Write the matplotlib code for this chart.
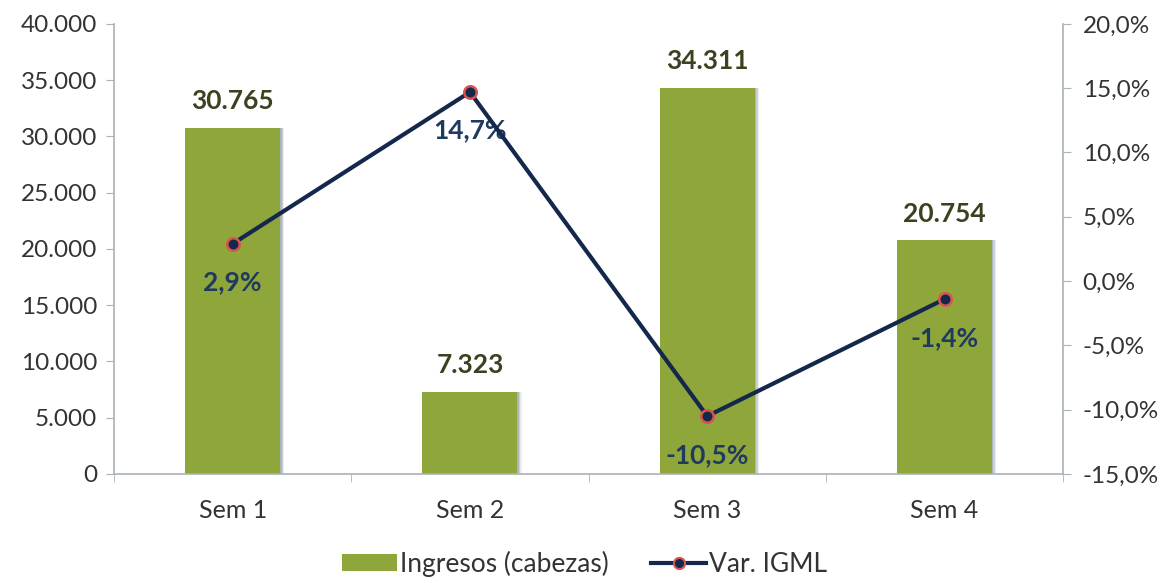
import matplotlib.pyplot as plt
import numpy as np
from matplotlib.ticker import FuncFormatter, FixedLocator
from matplotlib.lines import Line2D
from matplotlib.patches import Patch

categories = ["Sem 1", "Sem 2", "Sem 3", "Sem 4"]
ingresos = [30765, 7323, 34311, 20754]
var_igml = [2.9, 14.7, -10.5, -1.4]
bar_labels = ["30.765", "7.323", "34.311", "20.754"]
line_labels = ["2,9%", "14,7%", "-10,5%", "-1,4%"]

plt.rcParams['font.family'] = ['Lato', 'DejaVu Sans']

fig = plt.figure(figsize=(11.69, 5.83), dpi=100)
ax = fig.add_axes([0.0975, 0.187, 0.812, 0.772])
ax2 = ax.twinx()

x = np.arange(len(categories))
bar_color = "#8FA63A"
bw = 0.4
# soft shadow on right side
for dx, al in [(0.006, 0.4), (0.012, 0.28), (0.018, 0.16)]:
    ax.bar(x + dx, ingresos, width=bw, color="#7D8C96", alpha=al, zorder=1, linewidth=0)
ax.bar(x, ingresos, width=bw, color=bar_color, zorder=2, linewidth=0)

for xi, v, lab in zip(x, ingresos, bar_labels):
    ax.text(xi, v + 1300, lab, ha="center", va="bottom", fontsize=19,
            fontweight="bold", color="#3B4220")

ax.set_xlim(-0.5, 3.5)
ax.set_ylim(0, 40000)
ax.set_yticks(np.arange(0, 40001, 5000))
ax.yaxis.set_major_formatter(FuncFormatter(lambda v, p: f"{int(v):,}".replace(",", ".")))
ax.set_xticks(x)
ax.set_xticklabels(categories)
ax.xaxis.set_minor_locator(FixedLocator([-0.5, 0.5, 1.5, 2.5, 3.5]))
ax.tick_params(axis="x", which="major", length=0, pad=18, labelsize=18, labelcolor="#333333")
ax.tick_params(axis="x", which="minor", length=6, color="#A9B3B8", direction="out")
ax.tick_params(axis="y", length=6, color="#A9B3B8", labelsize=17.5, labelcolor="#333333", pad=6)

line_color = "#14284B"
ax2.plot(x, var_igml, color=line_color, lw=3, marker="o", markersize=9,
         markerfacecolor=line_color, markeredgecolor="#D9534F", markeredgewidth=1.8, zorder=5)
ax2.set_ylim(-15, 20)
ax2.set_yticks(np.arange(-15, 20.1, 5))
ax2.yaxis.set_major_formatter(FuncFormatter(lambda v, p: f"{v:.1f}%".replace(".", ",")))
ax2.tick_params(axis="y", length=6, color="#A9B3B8", labelsize=17.5, labelcolor="#333333", pad=8)

for xi, v, lab in zip(x, var_igml, line_labels):
    ax2.text(xi, v - 3.0, lab, ha="center", va="center", fontsize=19,
             fontweight="bold", color="#1F3A5F", zorder=4)

for a in (ax, ax2):
    a.spines["top"].set_visible(False)
    for s in ("left", "right", "bottom"):
        a.spines[s].set_color("#A9B3B8")
        a.spines[s].set_linewidth(1.2)
ax.spines["right"].set_visible(False)
ax2.spines["left"].set_visible(False)
ax2.spines["bottom"].set_visible(False)

handles = [Patch(facecolor=bar_color, edgecolor="none", label="Ingresos (cabezas)"),
           Line2D([0], [0], color=line_color, lw=3, marker="o", markersize=8,
                  markerfacecolor=line_color, markeredgecolor="#D9534F",
                  markeredgewidth=1.5, label="Var. IGML")]
fig.legend(handles=handles, loc="lower center", bbox_to_anchor=(0.5, -0.03), ncol=2,
           frameon=False, fontsize=19, handlelength=2.1, handleheight=0.6,
           handletextpad=0.1, columnspacing=1.6, labelcolor="#333333")

fig.savefig("out.png", dpi=100)
